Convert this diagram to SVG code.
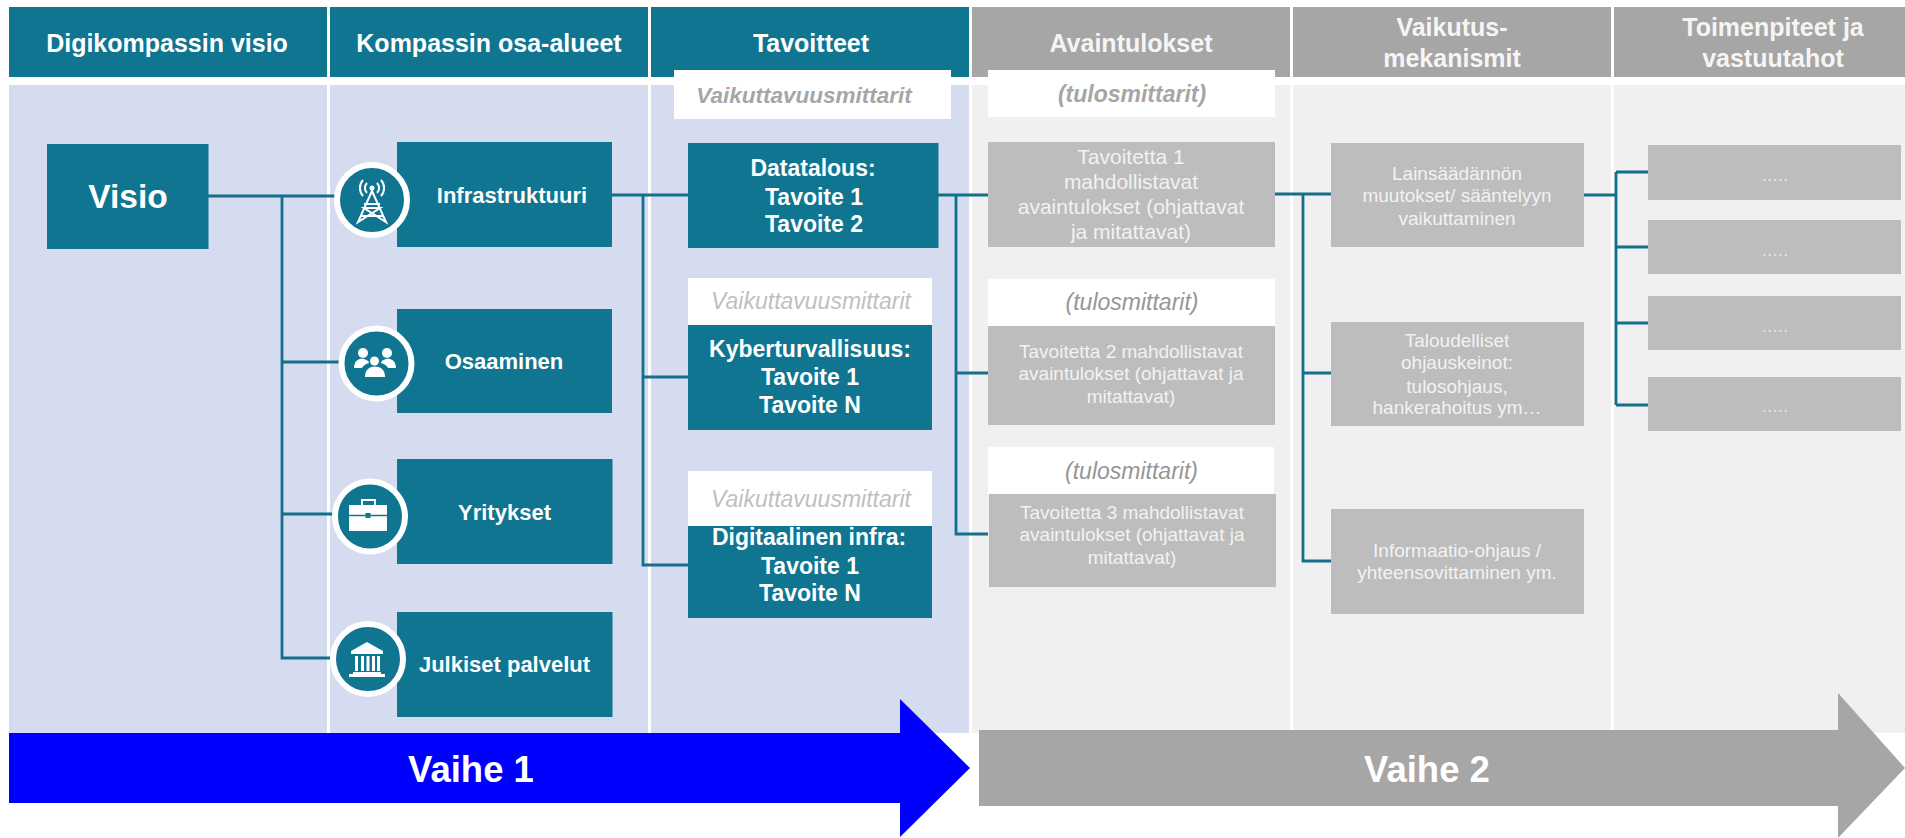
<svg xmlns="http://www.w3.org/2000/svg" width="1905" height="838" viewBox="0 0 1905 838">
<style>
text{font-family:"Liberation Sans",Arial,sans-serif;text-anchor:middle}
.teal{fill:#0f7591}
.gh{fill:#a6a6a6}
.gb{fill:#bdbdbd}
.w{fill:#fff}
.hd{font-size:25px;font-weight:700;fill:#fff}
.hg{font-size:25px;font-weight:700;fill:#f5f5f5}
.ar{font-size:22px;font-weight:700;fill:#fff}
.go{font-size:23px;font-weight:700;fill:#fff}
.m1{font-size:23px;font-style:italic;fill:#bfbfbf}
.m0{font-size:22.5px;font-style:italic;font-weight:700;fill:#a6a6a6}
.t1{font-size:23px;font-style:italic;fill:#969696}
.t0{font-size:23px;font-style:italic;font-weight:700;fill:#a6a6a6}
.b21{font-size:21px;fill:#f2f2f2}
.b19{font-size:19px;fill:#f2f2f2}
.ph{font-size:36.500px;font-weight:700;fill:#fff}
.dots{font-size:19px;fill:#e4e4e4}
.conn{fill:none;stroke:#12708a;stroke-width:2.800}
.ring{fill:#0f7591;stroke:#fff;stroke-width:6}
.ico{fill:#fff}
.icl{fill:none;stroke:#fff;stroke-width:2}
</style>
<g id="background">
<rect x="9" y="85" width="960" height="648" fill="#d5dcf0"/>
<rect x="972" y="85" width="933" height="648" fill="#f0f0f0"/>
<rect x="327" y="85" width="3" height="648" fill="#fff"/>
<rect x="648" y="85" width="3" height="648" fill="#fff"/>
<rect x="1290" y="85" width="3" height="648" fill="#fff"/>
<rect x="1611" y="85" width="3" height="648" fill="#fff"/>
</g>
<g id="header-visio"><rect class="teal" x="9" y="7" width="318" height="70"/><text class="hd" x="167" y="52">Digikompassin visio</text></g>
<g id="header-osa-alueet"><rect class="teal" x="330" y="7" width="318" height="70"/><text class="hd" x="489" y="52">Kompassin osa-alueet</text></g>
<g id="header-tavoitteet"><rect class="teal" x="651" y="7" width="318" height="70"/><text class="hd" x="811" y="52">Tavoitteet</text></g>
<g id="header-avaintulokset"><rect class="gh" x="972" y="7" width="318" height="70"/><text class="hg" x="1131" y="52">Avaintulokset</text></g>
<g id="header-vaikutus"><rect class="gh" x="1293" y="7" width="318" height="70"/><text class="hg" x="1452" y="36">Vaikutus-</text><text class="hg" x="1452" y="67">mekanismit</text></g>
<g id="header-toimenpiteet"><rect class="gh" x="1614" y="7" width="291" height="70"/><text class="hg" x="1773" y="36">Toimenpiteet ja</text><text class="hg" x="1773" y="67">vastuutahot</text></g>
<g id="connectors" class="conn">
<path d="M208 196H336M282 196V658H335M282 362H340M282 514H336"/>
<path d="M612 195H688M643 195V565H688M643 377H688"/>
<path d="M938 195H988M956 195V534H988M956 373H988"/>
<path d="M1275 194H1331M1303 194V561H1331M1303 373H1331"/>
<path d="M1584 195H1616M1616 172V405M1616 172H1648M1616 247H1648M1616 323H1648M1616 405H1648"/>
</g>
<g id="visio"><rect class="teal" x="47" y="144" width="161.500" height="105"/><text x="128" y="208" font-size="33.500" font-weight="700" fill="#fff">Visio</text></g>
<g id="infrastruktuuri"><rect class="teal" x="397" y="142" width="215" height="105"/><text class="ar" x="512" y="203">Infrastruktuuri</text>
<circle class="ring" cx="372" cy="200" r="35"/>
<path class="icl" d="M372 191L358 222L380 208L364 208L386 222Z"/><path class="icl" d="M364 204L380 204M361 216L383 216" stroke-width="1.500"/>
<circle class="ico" cx="372" cy="188" r="2.500"/>
<path class="icl" stroke-width="1.500" d="M367 193A7 7 0 0 1 367 183M377 193A7 7 0 0 0 377 183M363 196A12 12 0 0 1 363 180M381 196A12 12 0 0 0 381 180"/></g>
<g id="osaaminen"><rect class="teal" x="397" y="309" width="215" height="104"/><text class="ar" x="504" y="369">Osaaminen</text>
<circle class="ring" cx="376.500" cy="363.500" r="35"/>
<circle class="ico" cx="363" cy="353" r="5"/><circle class="ico" cx="387" cy="353" r="5"/><circle class="ico" cx="374.500" cy="361" r="4.500"/>
<path class="ico" d="M354 368C354 360 360 358 364 359C368 360 369 362 369 363C365 364 363 366 362 368ZM396 368C396 360 390 358 386 359C382 360 381 362 381 363C385 364 387 366 388 368Z"/>
<path class="ico" d="M365 377C365 370 369 366.500 375 366.500C381 366.500 385 370 385 377Z"/></g>
<g id="yritykset"><rect class="teal" x="397" y="459" width="215.500" height="105"/><text class="ar" x="504.500" y="520">Yritykset</text>
<circle class="ring" cx="370" cy="516.500" r="35"/>
<path class="ico" d="M349 505H387V531H349Z"/><path d="M349 515.500H387" stroke="#0f7591" stroke-width="1.500"/><path class="icl" stroke-width="2.500" d="M362 505V500H375V505"/><rect x="365.500" y="513" width="5" height="5" fill="#0f7591"/></g>
<g id="julkiset"><rect class="teal" x="397" y="612" width="215.500" height="105"/><text class="ar" x="504.500" y="672">Julkiset palvelut</text>
<circle class="ring" cx="368" cy="659" r="35"/>
<path class="ico" d="M367 642L383 651V654H351V651ZM353 672H381V674H385V677H349V674H353Z"/>
<path class="ico" d="M355 656h3v15h-3zM361 656h3v15h-3zM366.500 656h3v15h-3zM372 656h3v15h-3zM377 656h3v15h-3z"/></g>
<g id="mittari-0"><rect class="w" x="674" y="70" width="277" height="49"/><text class="m0" x="804" y="103">Vaikuttavuusmittarit</text></g>
<g id="datatalous"><rect class="teal" x="688" y="143" width="250.500" height="105"/><text class="go" x="813" y="176">Datatalous:</text><text class="go" x="814" y="205">Tavoite 1</text><text class="go" x="814" y="232">Tavoite 2</text></g>
<g id="mittari-1"><rect class="w" x="688" y="278" width="244" height="47"/><text class="m1" x="811" y="309">Vaikuttavuusmittarit</text></g>
<g id="kyberturvallisuus"><rect class="teal" x="688" y="325" width="244" height="105"/><text class="go" x="810" y="357">Kyberturvallisuus:</text><text class="go" x="810" y="385">Tavoite 1</text><text class="go" x="810" y="413">Tavoite N</text></g>
<g id="mittari-2"><rect class="w" x="688" y="471" width="244" height="55"/><text class="m1" x="811" y="507">Vaikuttavuusmittarit</text></g>
<g id="digitaalinen"><rect class="teal" x="688" y="526" width="244" height="92"/><text class="go" x="809" y="545">Digitaalinen infra:</text><text class="go" x="810" y="574">Tavoite 1</text><text class="go" x="810" y="601">Tavoite N</text></g>
<g id="tulos-0"><rect class="w" x="988" y="70" width="287" height="47"/><text class="t0" x="1132" y="102">(tulosmittarit)</text></g>
<g id="avain-1"><rect class="gb" x="988" y="142" width="287" height="105"/><text class="b21" x="1131" y="164">Tavoitetta 1</text><text class="b21" x="1131" y="189">mahdollistavat</text><text class="b21" x="1131" y="214">avaintulokset (ohjattavat</text><text class="b21" x="1131" y="239">ja mitattavat)</text></g>
<g id="tulos-1"><rect class="w" x="988" y="279" width="287" height="47"/><text class="t1" x="1132" y="310">(tulosmittarit)</text></g>
<g id="avain-2"><rect class="gb" x="988" y="326" width="287" height="99"/><text class="b19" x="1131" y="358">Tavoitetta 2 mahdollistavat</text><text class="b19" x="1131" y="380">avaintulokset (ohjattavat ja</text><text class="b19" x="1131" y="403">mitattavat)</text></g>
<g id="tulos-2"><rect class="w" x="988" y="447" width="286" height="47"/><text class="t1" x="1131.500" y="479">(tulosmittarit)</text></g>
<g id="avain-3"><rect class="gb" x="989" y="494" width="287" height="93"/><text class="b19" x="1132" y="519">Tavoitetta 3 mahdollistavat</text><text class="b19" x="1132" y="541">avaintulokset (ohjattavat ja</text><text class="b19" x="1132" y="564">mitattavat)</text></g>
<g id="vaikutus-1"><rect class="gb" x="1331" y="143" width="253" height="104"/><text class="b19" x="1457" y="180">Lainsäädännön</text><text class="b19" x="1457" y="202">muutokset/ sääntelyyn</text><text class="b19" x="1457" y="225">vaikuttaminen</text></g>
<g id="vaikutus-2"><rect class="gb" x="1331" y="322" width="253" height="104"/><text class="b19" x="1457" y="347">Taloudelliset</text><text class="b19" x="1457" y="369">ohjauskeinot:</text><text class="b19" x="1457" y="393">tulosohjaus,</text><text class="b19" x="1457" y="414">hankerahoitus ym…</text></g>
<g id="vaikutus-3"><rect class="gb" x="1331" y="509" width="253" height="105"/><text class="b19" x="1457" y="557">Informaatio-ohjaus /</text><text class="b19" x="1457" y="579">yhteensovittaminen ym.</text></g>
<g id="toimenpide-1"><rect class="gb" x="1648" y="145" width="253" height="55"/><text class="dots" x="1775" y="181">.....</text></g>
<g id="toimenpide-2"><rect class="gb" x="1648" y="220" width="253" height="54"/><text class="dots" x="1775" y="256">.....</text></g>
<g id="toimenpide-3"><rect class="gb" x="1648" y="296" width="253" height="54"/><text class="dots" x="1775" y="332">.....</text></g>
<g id="toimenpide-4"><rect class="gb" x="1648" y="377" width="253" height="54"/><text class="dots" x="1775" y="412">.....</text></g>
<g id="vaihe-1"><path d="M9 733H900V699L970 768L900 837V803H9Z" fill="#0000ff"/><text class="ph" x="471" y="782">Vaihe 1</text></g>
<g id="vaihe-2"><path d="M979 730H1838V693L1905 768L1838 838V806H979Z" fill="#a6a6a6"/><text class="ph" x="1427" y="782">Vaihe 2</text></g>
</svg>
